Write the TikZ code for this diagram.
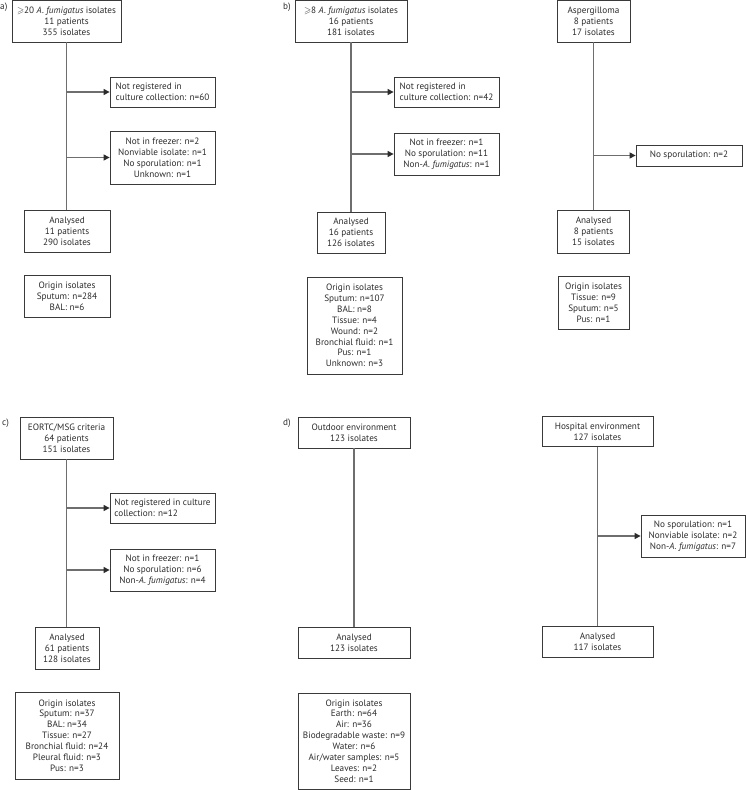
\documentclass[tikz,border=0pt]{standalone}
\usepackage{amssymb}
\usepackage{fontspec}
\setmainfont{PT Sans}
\usetikzlibrary{arrows.meta}
\definecolor{txt}{HTML}{2B2B2B}
\definecolor{boxc}{HTML}{3A3A3A}
\definecolor{linec}{HTML}{6E6E6E}
\newcommand{\fsz}{\fontsize{9.2}{10.9}\selectfont}
\newcommand{\Af}{\textit{A.~fumigatus}}
\begin{document}
\begin{tikzpicture}[x=1pt,y=-1pt,
  box/.style={draw=boxc, line width=0.8pt, align=center, inner sep=0pt, font=\fsz, text=txt},
  lbox/.style={box, align=left},
  conn/.style={draw=linec, line width=1.1pt},
  arr/.style={conn, -{Triangle[length=6pt,width=6pt,color=txt]}},
  panel/.style={font=\fsz, text=txt, anchor=west, inner sep=0pt}]
\useasboundingbox (0,0) rectangle (746,790);

% ---------- panel a
\node[panel] (la) at (0,7) {a)};
\node[box, minimum width=109pt, minimum height=41.5pt] (at) at (66.5,21.25)
  {$\geqslant$20 \Af{} isolates\\11 patients\\355 isolates};
\node[lbox, minimum width=105pt, minimum height=30pt] (a1) at (162.5,92)
  {Not registered in\\culture collection: n=60};
\node[box, minimum width=105pt, minimum height=53pt] (a2) at (162.5,157.5)
  {Not in freezer: n=2\\Nonviable isolate: n=1\\No sporulation: n=1\\Unknown: n=1};
\node[box, minimum width=86pt, minimum height=42pt] (aa) at (67,231)
  {Analysed\\11 patients\\290 isolates};
\node[box, minimum width=86pt, minimum height=42pt] (ao) at (67,296)
  {Origin isolates\\Sputum: n=284\\BAL: n=6};
\draw[conn] (at.south) -- (at.south |- aa.north);
\draw[arr] (at.south |- a1.west) -- (a1.west);
\draw[arr] (at.south |- a2.west) -- (a2.west);

% ---------- panel b
\node[panel] (lb) at (283,7) {b)};
\node[box, minimum width=112pt, minimum height=41.5pt] (bt) at (351,21.25)
  {$\geqslant$8 \Af{} isolates\\16 patients\\181 isolates};
\node[lbox, minimum width=105pt, minimum height=30pt] (b1) at (446.5,92)
  {Not registered in\\culture collection: n=42};
\node[box, minimum width=105pt, minimum height=42pt] (b2) at (446.5,154)
  {Not in freezer: n=1\\No sporulation: n=11\\Non-\Af: n=1};
\node[box, minimum width=68pt, minimum height=41pt] (ba) at (351,232.5)
  {Analysed\\16 patients\\126 isolates};
\node[box, minimum width=95pt, minimum height=97pt] (bo) at (354.5,325.5)
  {Origin isolates\\Sputum: n=107\\BAL: n=8\\Tissue: n=4\\Wound: n=2\\Bronchial fluid: n=1\\Pus: n=1\\Unknown: n=3};
\draw[conn] (bt.south) -- (bt.south |- ba.north);
\draw[arr] (bt.south |- b1.west) -- (b1.west);
\draw[arr] (bt.south |- b2.west) -- (b2.west);

% ---------- aspergilloma
\node[box, minimum width=73pt, minimum height=41.5pt] (gt) at (593.5,21.25)
  {Aspergilloma\\8 patients\\17 isolates};
\node[box, minimum width=106pt, minimum height=21pt] (g1) at (689,155.5)
  {No sporulation: n=2};
\node[box, minimum width=72pt, minimum height=43pt] (ga) at (593.5,231.5)
  {Analysed\\8 patients\\15 isolates};
\node[box, minimum width=71pt, minimum height=53pt] (go) at (593.5,302.5)
  {Origin isolates\\Tissue: n=9\\Sputum: n=5\\Pus: n=1};
\draw[conn] (gt.south) -- (gt.south |- ga.north);
\draw[arr] (gt.south |- g1.west) -- (g1.west);

% ---------- panel c
\node[panel] (lc) at (2,423) {c)};
\node[box, minimum width=93pt, minimum height=42pt] (ct) at (66.5,438)
  {EORTC/MSG criteria\\64 patients\\151 isolates};
\node[lbox, minimum width=105pt, minimum height=30pt] (c1) at (162.5,508)
  {Not registered in culture\\collection: n=12};
\node[box, minimum width=105pt, minimum height=42pt] (c2) at (162.5,570)
  {Not in freezer: n=1\\No sporulation: n=6\\Non-\Af: n=4};
\node[box, minimum width=64pt, minimum height=42pt] (ca) at (67,648)
  {Analysed\\61 patients\\128 isolates};
\node[box, minimum width=104pt, minimum height=87pt] (co) at (67,735.5)
  {Origin isolates\\Sputum: n=37\\BAL: n=34\\Tissue: n=27\\Bronchial fluid: n=24\\Pleural fluid: n=3\\Pus: n=3};
\draw[conn] (ct.south) -- (ct.south |- ca.north);
\draw[arr] (ct.south |- c1.west) -- (c1.west);
\draw[arr] (ct.south |- c2.west) -- (c2.west);

% ---------- panel d
\node[panel] (ld) at (283,423) {d)};
\node[box, minimum width=112pt, minimum height=31pt] (dt) at (354,432.5)
  {Outdoor environment\\123 isolates};
\node[box, minimum width=112pt, minimum height=31pt] (da) at (354,642.5)
  {Analysed\\123 isolates};
\node[box, minimum width=112pt, minimum height=96pt] (do) at (354,741)
  {Origin isolates\\Earth: n=64\\Air: n=36\\Biodegradable waste: n=9\\Water: n=6\\Air/water samples: n=5\\Leaves: n=2\\Seed: n=1};
\draw[conn] (dt.south) -- (dt.south |- da.north);

\node[box, minimum width=111pt, minimum height=30pt] (ht) at (597.5,431.5)
  {Hospital environment\\127 isolates};
\node[box, minimum width=104pt, minimum height=42pt] (h1) at (693,536)
  {No sporulation: n=1\\Nonviable isolate: n=2\\Non-\Af: n=7};
\node[box, minimum width=111pt, minimum height=31pt] (ha) at (597.5,642)
  {Analysed\\117 isolates};
\draw[conn] (ht.south) -- (ht.south |- ha.north);
\draw[arr] (ht.south |- h1.west) -- (h1.west);
\end{tikzpicture}
\end{document}
